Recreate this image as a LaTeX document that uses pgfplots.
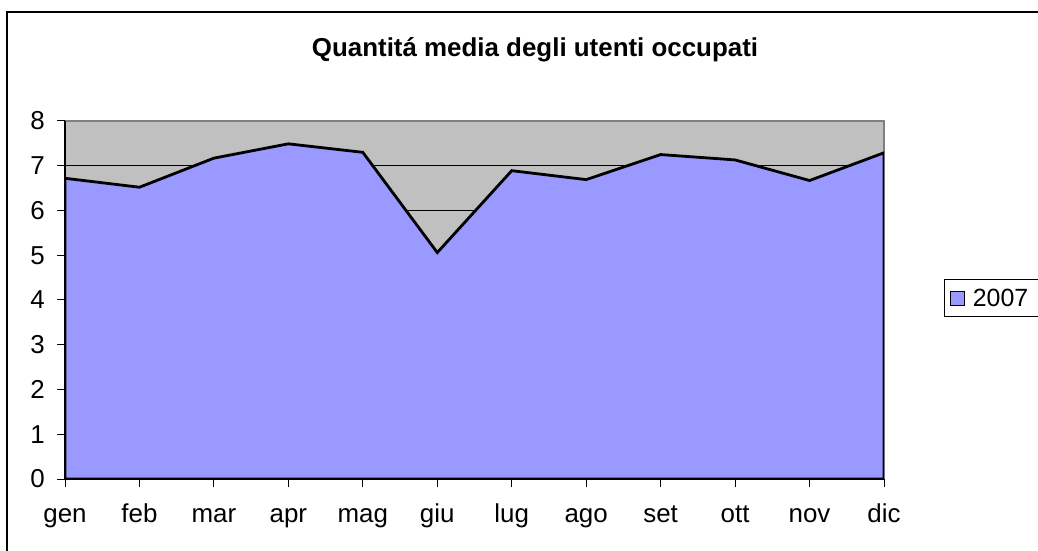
\documentclass[border=0pt]{standalone}
\usepackage{pgfplots}
\pgfplotsset{compat=1.18}
\usepackage{fontspec}
\setmainfont{Liberation Sans}
\definecolor{areablue}{HTML}{9999FF}
\definecolor{bggray}{HTML}{C0C0C0}
\definecolor{bordgray}{HTML}{808080}
\begin{document}
\begin{tikzpicture}
\begin{axis}[
  at={(65bp,72bp)}, anchor=south west,
  scale only axis, width=819bp, height=358bp,
  xmin=0, xmax=11, ymin=0, ymax=8,
  axis lines=left,
  axis line style={-, black, line width=2bp},
  axis background/.style={fill=bggray, draw=bordgray, line width=1.5bp},
  xtick={0,...,11},
  xticklabels={gen,feb,mar,apr,mag,giu,lug,ago,set,ott,nov,dic},
  ytick={0,...,8},
  extra y ticks={1,...,7},
  extra y tick labels={},
  extra y tick style={grid=major, major tick length=0pt},
  major grid style={black, line width=1bp},
  tick align=outside,
  major tick length=8bp,
  tick style={black, line width=1bp},
  /pgf/number format/assume math mode=true,
  ticklabel style={font=\fontsize{26}{30}\selectfont},
  yticklabel style={inner sep=0pt, xshift=-12bp},
  xticklabel style={anchor=base, inner sep=0pt, yshift=-35bp},
  title={\textbf{Quantitá media degli utenti occupati}},
  title style={at={(0.5739,1.164)}, anchor=base, font=\fontsize{26}{30}\selectfont, inner sep=0pt},
  legend style={at={(1.0733,0.505)}, anchor=west, draw=black, line width=1bp,
    font=\fontsize{25}{30}\selectfont, inner xsep=5bp, inner ysep=7bp,
    nodes={inner sep=2bp}},
  legend cell align=left,
]
\addplot[fill=areablue, draw=black, line width=2.8bp,
  legend image code/.code={\draw[fill=areablue, draw=black, line width=1.3bp] (0bp,-7bp) rectangle (14bp,7bp);}]
  coordinates {(0,6.72) (1,6.52) (2,7.17) (3,7.49) (4,7.30) (5,5.06) (6,6.89) (7,6.69) (8,7.25) (9,7.13) (10,6.67) (11,7.29)} \closedcycle;
\addlegendentry{\hspace{6bp}\makebox[80bp][l]{2007}}
\end{axis}
\draw[line width=1.5bp] (7bp,-20bp) -- (7bp,539bp) -- (1060bp,539bp);
\pgfresetboundingbox
\useasboundingbox (0,0) rectangle (1038bp,551bp);
\end{tikzpicture}
\end{document}
